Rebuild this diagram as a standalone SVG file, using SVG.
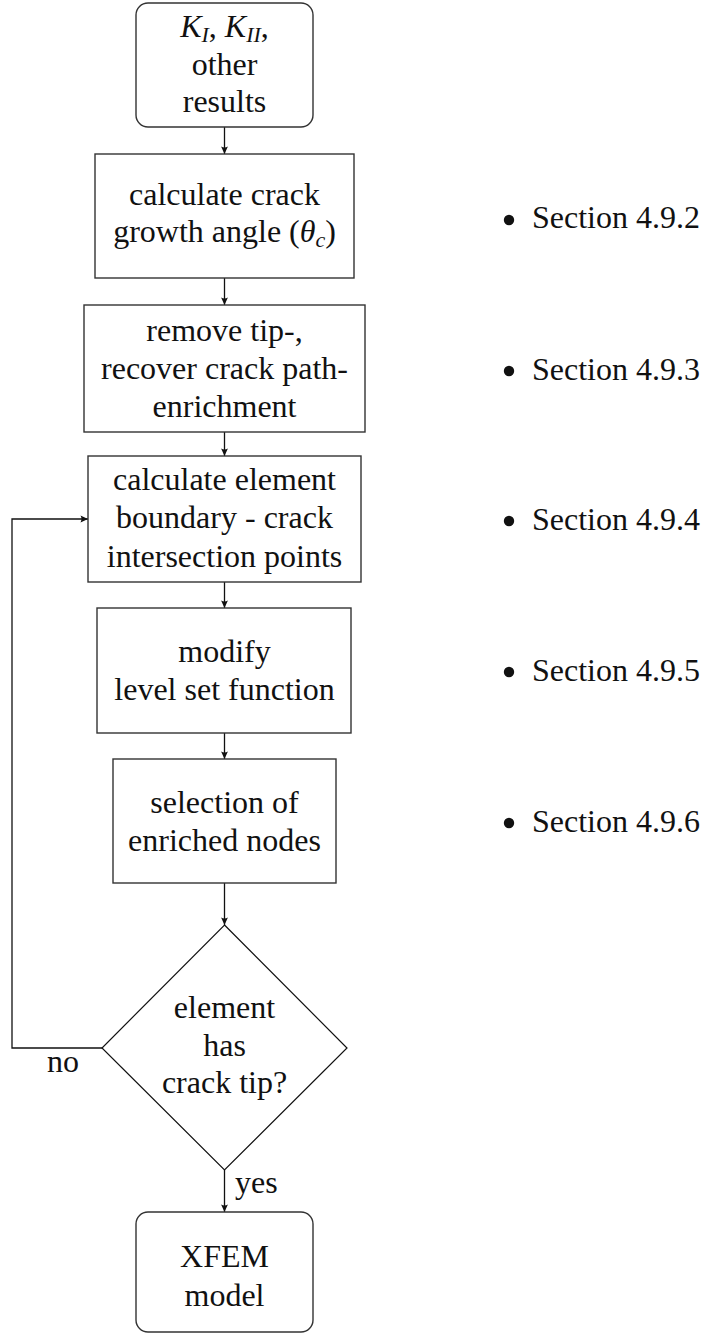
<svg xmlns="http://www.w3.org/2000/svg" width="708" height="1334" viewBox="0 0 708 1334" font-family="Liberation Serif, DejaVu Serif, serif">
<style>
text{font-size:32px;fill:#111;}
.c{text-anchor:middle;}
.box{fill:#fff;stroke:#333;stroke-width:1.4;}
.edge{fill:none;stroke:#111;stroke-width:1.3;}
.it{font-style:italic;}
</style>
<defs>
<marker id="ah" markerUnits="userSpaceOnUse" markerWidth="12" markerHeight="10" viewBox="-8 -5 10 10" refX="0" refY="0" orient="auto">
<path d="M0,0 L-7.5,-3.4 Q-5.5,0 -7.5,3.4 Z" fill="#111"/>
</marker>
</defs>
<rect width="708" height="1334" fill="#fff"/>
<g id="connectors">
<line class="edge" x1="224.5" y1="127" x2="224.5" y2="154" marker-end="url(#ah)"/>
<line class="edge" x1="224.5" y1="278" x2="224.5" y2="305" marker-end="url(#ah)"/>
<line class="edge" x1="224.5" y1="432" x2="224.5" y2="456" marker-end="url(#ah)"/>
<line class="edge" x1="224.5" y1="582" x2="224.5" y2="608" marker-end="url(#ah)"/>
<line class="edge" x1="224.5" y1="733" x2="224.5" y2="759" marker-end="url(#ah)"/>
<line class="edge" x1="224.5" y1="883" x2="224.5" y2="925" marker-end="url(#ah)"/>
<line class="edge" x1="224.5" y1="1170" x2="224.5" y2="1212" marker-end="url(#ah)"/>
<polyline class="edge" points="102,1048 12,1048 12,519 88,519" marker-end="url(#ah)"/>
<text x="63" y="1072" class="c">no</text>
<text x="235" y="1193">yes</text>
</g>
<g id="n1">
<rect class="box" x="136" y="3" width="177" height="124" rx="12"/>
<text x="224.5" y="37" class="c"><tspan class="it">K</tspan><tspan class="it" font-size="22" dy="5">I</tspan><tspan dy="-5">, </tspan><tspan class="it">K</tspan><tspan class="it" font-size="22" dy="5">II</tspan><tspan dy="-5">,</tspan></text>
<text x="224.5" y="75" class="c">other</text>
<text x="224.5" y="112" class="c">results</text>
</g>
<g id="n2">
<rect class="box" x="95" y="154" width="259" height="124"/>
<text x="224.5" y="205" class="c">calculate crack</text>
<text x="224.5" y="242" class="c">growth angle (<tspan class="it">θ</tspan><tspan class="it" font-size="22" dy="5">c</tspan><tspan dy="-5">)</tspan></text>
</g>
<g id="n3">
<rect class="box" x="84" y="305" width="281" height="127"/>
<text x="224.5" y="341" class="c">remove tip-,</text>
<text x="224.5" y="379" class="c">recover crack path-</text>
<text x="224.5" y="417" class="c">enrichment</text>
</g>
<g id="n4">
<rect class="box" x="88" y="456" width="273" height="126"/>
<text x="224.5" y="490" class="c">calculate element</text>
<text x="224.5" y="528" class="c">boundary - crack</text>
<text x="224.5" y="567" class="c">intersection points</text>
</g>
<g id="n5">
<rect class="box" x="97" y="608" width="254" height="125"/>
<text x="224.5" y="662" class="c">modify</text>
<text x="224.5" y="700" class="c">level set function</text>
</g>
<g id="n6">
<rect class="box" x="113" y="759" width="223" height="124"/>
<text x="224.5" y="813" class="c">selection of</text>
<text x="224.5" y="851" class="c">enriched nodes</text>
</g>
<g id="n7">
<polygon class="box" points="224.5,925 347,1048 224.5,1170 102,1048" style="stroke:#111;stroke-width:1.2"/>
<text x="224.5" y="1018" class="c">element</text>
<text x="224.5" y="1056" class="c">has</text>
<text x="224.5" y="1093" class="c">crack tip?</text>
</g>
<g id="n8">
<rect class="box" x="136" y="1212" width="177" height="120" rx="12"/>
<text x="224.5" y="1267" class="c">XFEM</text>
<text x="224.5" y="1306" class="c">model</text>
</g>
<g id="sections">
<circle cx="509" cy="220" r="5.2" fill="#111"/>
<text x="532" y="228">Section 4.9.2</text>
<circle cx="509" cy="371" r="5.2" fill="#111"/>
<text x="532" y="380">Section 4.9.3</text>
<circle cx="509" cy="521" r="5.2" fill="#111"/>
<text x="532" y="530">Section 4.9.4</text>
<circle cx="509" cy="672" r="5.2" fill="#111"/>
<text x="532" y="681">Section 4.9.5</text>
<circle cx="509" cy="823" r="5.2" fill="#111"/>
<text x="532" y="832">Section 4.9.6</text>
</g>
</svg>
